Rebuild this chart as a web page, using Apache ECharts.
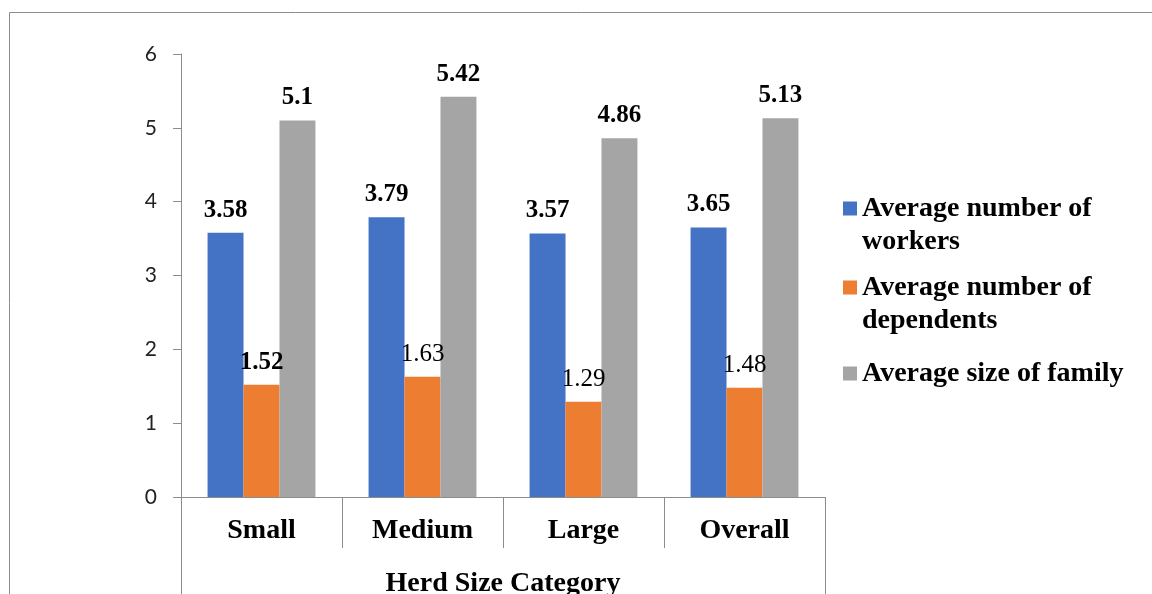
<!DOCTYPE html>
<html>
<head>
<meta charset="utf-8">
<script src="https://cdn.jsdelivr.net/npm/echarts@6/dist/echarts.min.js"></script>
<style>
  html, body { margin: 0; padding: 0; background: #fff; }
  #chart { width: 1152px; height: 594px; }
</style>
</head>
<body>
<div id="chart"></div>
<script>
// Herd size categories and the three household averages per category.
const categories = ['Small', 'Medium', 'Large', 'Overall'];
const axisTitle = 'Herd Size Category';
const seriesNames = [
  'Average number of workers',
  'Average number of dependents',
  'Average size of family',
];
const workers = [3.58, 3.79, 3.57, 3.65];
const dependents = [1.52, 1.63, 1.29, 1.48];
const familySize = [5.1, 5.42, 4.86, 5.13];
const yTicks = [0, 1, 2, 3, 4, 5, 6];

const colors = ['#4472C4', '#ED7D31', '#A5A5A5'];
const axisGray = '#8c8c8c';
const serif = '"Liberation Serif", "Times New Roman", serif';

// legend names wrap onto two lines like the original
const legendLabels = {
  'Average number of workers': 'Average number of\nworkers',
  'Average number of dependents': 'Average number of\ndependents',
  'Average size of family': 'Average size of family',
};
// square at the top for two-line entries, centred for the single-line one
const iconTop = 'path://M0,0H14V14H0Z M0,47L14,47';
const iconMid = 'path://M0,16.5H14V30.5H0Z M0,0L14,0 M0,47L14,47';

const chart = echarts.init(document.getElementById('chart'), null, { renderer: 'canvas' });

function barSeries(name, values, color, weights) {
  return {
    name, type: 'bar', barGap: 0, barCategoryGap: '33%',
    itemStyle: { color },
    label: {
      show: true, position: 'top', distance: 10,
      fontFamily: serif, fontSize: 25, fontWeight: 'bold', color: '#000',
    },
    data: values.map((v, i) => weights
      ? { value: v, label: { fontWeight: weights[i] } }
      : v),
  };
}

chart.setOption({
  animation: false,
  backgroundColor: '#fff',
  graphic: [{
    type: 'rect', silent: true,
    shape: { x: 9.5, y: 12.5, width: 1400, height: 800 },
    style: { fill: 'none', stroke: axisGray, lineWidth: 1 },
  }],
  grid: { left: 181, right: 327, top: 54, bottom: 97, outerBoundsMode: 'none', containLabel: false },
  legend: {
    orient: 'vertical', left: 843, top: 192, padding: 0,
    itemWidth: 14, itemHeight: 47, itemGap: 13,
    textStyle: { fontFamily: serif, fontSize: 28, fontWeight: 'bold', color: '#000', lineHeight: 33 },
    formatter: n => legendLabels[n],
    data: [
      { name: seriesNames[0], icon: iconTop },
      { name: seriesNames[1], icon: iconTop },
      { name: seriesNames[2], icon: iconMid },
    ],
  },
  xAxis: [{
    type: 'category', data: categories, position: 'bottom',
    axisLine: { lineStyle: { color: axisGray, width: 1 } },
    axisTick: { show: true, length: 51, lineStyle: { color: axisGray } },
    axisLabel: { margin: 20, fontFamily: serif, fontSize: 28, fontWeight: 'bold', color: '#000' },
  }, {
    type: 'category', data: [axisTitle], position: 'bottom',
    axisLine: { show: false },
    axisTick: { show: true, length: 97, lineStyle: { color: axisGray } },
    axisLabel: { margin: 73, fontFamily: serif, fontSize: 28, fontWeight: 'bold', color: '#000' },
  }],
  yAxis: {
    type: 'value', min: yTicks[0], max: yTicks[yTicks.length - 1], interval: 1,
    axisLine: { show: true, lineStyle: { color: axisGray } },
    axisTick: { show: true, length: 8, lineStyle: { color: axisGray } },
    axisLabel: { margin: 24, fontFamily: 'Lato, "Liberation Sans", sans-serif', fontSize: 21, color: '#222' },
    splitLine: { show: false },
  },
  series: [
    barSeries(seriesNames[0], workers, colors[0]),
    barSeries(seriesNames[1], dependents, colors[1], ['bold', 'normal', 'normal', 'normal']),
    barSeries(seriesNames[2], familySize, colors[2]),
  ],
});
</script>
</body>
</html>
